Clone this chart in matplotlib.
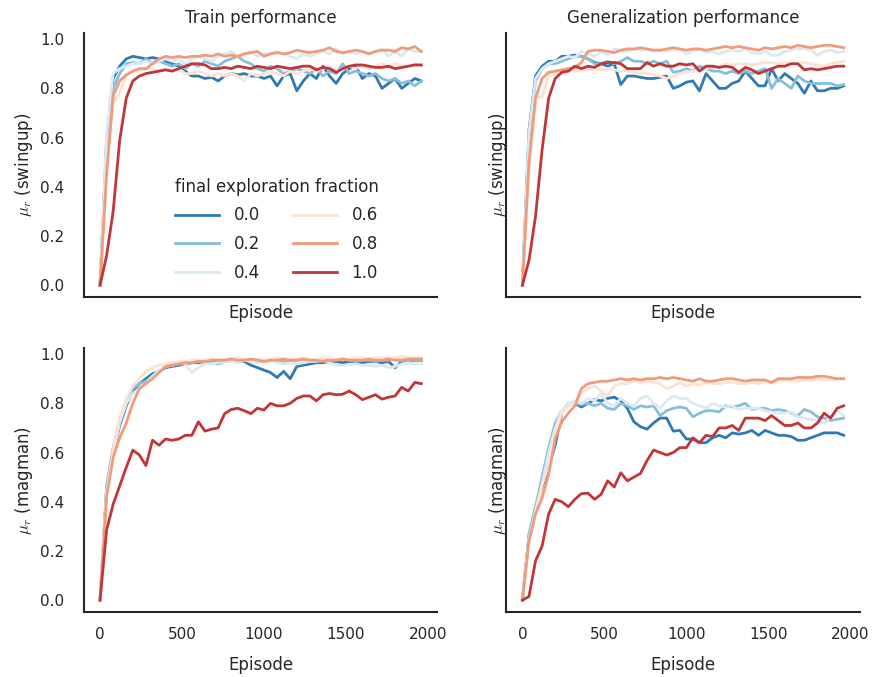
import matplotlib
matplotlib.use("Agg")
import matplotlib.pyplot as plt
import numpy as np

# episodes (one point every 40 episodes)
episodes = np.arange(0, 2000, 40)
fractions = ["0.0", "0.2", "0.4", "0.6", "0.8", "1.0"]

# ---- train performance, swingup ----
tl_00 = [0.00, 0.59, 0.84, 0.89, 0.92, 0.93, 0.925, 0.92, 0.925, 0.92,
         0.91, 0.90, 0.89, 0.87, 0.85, 0.85, 0.84, 0.845, 0.83, 0.85,
         0.86, 0.855, 0.86, 0.85, 0.85, 0.84, 0.85, 0.81, 0.85, 0.86,
         0.79, 0.83, 0.86, 0.84, 0.89, 0.85, 0.82, 0.86, 0.88, 0.89,
         0.84, 0.86, 0.85, 0.80, 0.82, 0.84, 0.80, 0.82, 0.84, 0.83]
tl_02 = [0.00, 0.55, 0.80, 0.86, 0.90, 0.905, 0.90, 0.92, 0.90, 0.91,
         0.90, 0.89, 0.90, 0.88, 0.90, 0.89, 0.91, 0.90, 0.89, 0.91,
         0.92, 0.93, 0.91, 0.90, 0.88, 0.87, 0.89, 0.88, 0.86, 0.87,
         0.88, 0.87, 0.86, 0.88, 0.85, 0.87, 0.86, 0.90, 0.86, 0.87,
         0.86, 0.85, 0.86, 0.84, 0.83, 0.84, 0.82, 0.83, 0.81, 0.83]
tl_04 = [0.00, 0.62, 0.86, 0.88, 0.89, 0.90, 0.90, 0.91, 0.90, 0.91,
         0.92, 0.91, 0.92, 0.90, 0.92, 0.93, 0.92, 0.91, 0.93, 0.94,
         0.95, 0.93, 0.94, 0.95, 0.93, 0.94, 0.94, 0.95, 0.94, 0.93,
         0.92, 0.94, 0.93, 0.94, 0.95, 0.94, 0.96, 0.94, 0.95, 0.94,
         0.95, 0.94, 0.95, 0.96, 0.93, 0.95, 0.93, 0.96, 0.95, 0.95]
tl_06 = [0.00, 0.50, 0.74, 0.78, 0.85, 0.87, 0.87, 0.88, 0.88, 0.87,
         0.88, 0.87, 0.88, 0.86, 0.86, 0.87, 0.86, 0.85, 0.86, 0.85,
         0.86, 0.85, 0.83, 0.86, 0.85, 0.86, 0.87, 0.86, 0.85, 0.87,
         0.86, 0.87, 0.88, 0.87, 0.88, 0.89, 0.87, 0.88, 0.89, 0.88,
         0.89, 0.88, 0.89, 0.90, 0.89, 0.90, 0.89, 0.89, 0.90, 0.89]
tl_08 = [0.00, 0.45, 0.77, 0.83, 0.855, 0.87, 0.88, 0.88, 0.90, 0.92,
         0.93, 0.925, 0.93, 0.925, 0.93, 0.93, 0.935, 0.93, 0.94, 0.93,
         0.935, 0.93, 0.94, 0.945, 0.95, 0.93, 0.94, 0.945, 0.94, 0.945,
         0.955, 0.95, 0.945, 0.95, 0.955, 0.965, 0.95, 0.945, 0.95, 0.955,
         0.95, 0.94, 0.95, 0.955, 0.955, 0.95, 0.965, 0.96, 0.97, 0.95]
tl_10 = [0.00, 0.12, 0.30, 0.59, 0.76, 0.83, 0.85, 0.86, 0.865, 0.87,
         0.875, 0.87, 0.88, 0.89, 0.90, 0.90, 0.895, 0.88, 0.88, 0.885,
         0.88, 0.89, 0.885, 0.88, 0.89, 0.885, 0.88, 0.89, 0.885, 0.88,
         0.885, 0.89, 0.89, 0.875, 0.885, 0.88, 0.865, 0.88, 0.89, 0.895,
         0.895, 0.89, 0.885, 0.885, 0.89, 0.88, 0.885, 0.89, 0.895, 0.895]

# ---- generalization performance, swingup ----
tr_00 = [0.00, 0.63, 0.85, 0.89, 0.91, 0.91, 0.93, 0.93, 0.935, 0.93,
         0.92, 0.905, 0.90, 0.89, 0.90, 0.815, 0.85, 0.85, 0.845, 0.84,
         0.84, 0.845, 0.85, 0.80, 0.81, 0.825, 0.83, 0.79, 0.86, 0.83,
         0.80, 0.80, 0.82, 0.83, 0.87, 0.84, 0.81, 0.81, 0.88, 0.83,
         0.86, 0.84, 0.82, 0.78, 0.83, 0.79, 0.79, 0.80, 0.80, 0.81]
tr_02 = [0.00, 0.60, 0.83, 0.88, 0.90, 0.90, 0.91, 0.92, 0.93, 0.93,
         0.92, 0.90, 0.90, 0.91, 0.90, 0.91, 0.925, 0.91, 0.91, 0.90,
         0.91, 0.90, 0.91, 0.865, 0.87, 0.88, 0.87, 0.89, 0.88, 0.87,
         0.87, 0.86, 0.87, 0.86, 0.87, 0.86, 0.87, 0.88, 0.80, 0.84,
         0.82, 0.80, 0.85, 0.83, 0.82, 0.82, 0.82, 0.82, 0.81, 0.815]
tr_04 = [0.00, 0.62, 0.84, 0.88, 0.90, 0.91, 0.92, 0.93, 0.925, 0.95,
         0.94, 0.93, 0.95, 0.935, 0.96, 0.955, 0.95, 0.96, 0.955, 0.96,
         0.95, 0.955, 0.95, 0.955, 0.96, 0.94, 0.95, 0.96, 0.945, 0.95,
         0.94, 0.95, 0.955, 0.95, 0.96, 0.945, 0.94, 0.95, 0.935, 0.935,
         0.95, 0.955, 0.96, 0.96, 0.955, 0.935, 0.95, 0.955, 0.945, 0.95]
tr_06 = [0.00, 0.45, 0.76, 0.765, 0.85, 0.86, 0.865, 0.87, 0.87, 0.87,
         0.875, 0.875, 0.875, 0.88, 0.875, 0.87, 0.87, 0.865, 0.86, 0.86,
         0.855, 0.85, 0.84, 0.85, 0.86, 0.865, 0.87, 0.875, 0.88, 0.885,
         0.89, 0.90, 0.895, 0.90, 0.90, 0.895, 0.90, 0.905, 0.905, 0.90,
         0.905, 0.90, 0.90, 0.905, 0.90, 0.895, 0.89, 0.90, 0.905, 0.91]
tr_08 = [0.00, 0.50, 0.76, 0.84, 0.865, 0.87, 0.875, 0.88, 0.885, 0.905,
         0.95, 0.955, 0.955, 0.95, 0.945, 0.955, 0.96, 0.96, 0.965, 0.96,
         0.955, 0.955, 0.96, 0.965, 0.96, 0.955, 0.96, 0.96, 0.955, 0.96,
         0.965, 0.97, 0.965, 0.97, 0.965, 0.96, 0.955, 0.965, 0.96, 0.965,
         0.97, 0.965, 0.975, 0.97, 0.965, 0.97, 0.975, 0.975, 0.97, 0.965]
tr_10 = [0.00, 0.10, 0.28, 0.55, 0.76, 0.84, 0.865, 0.87, 0.89, 0.88,
         0.89, 0.885, 0.90, 0.905, 0.905, 0.90, 0.88, 0.88, 0.88, 0.905,
         0.89, 0.90, 0.89, 0.89, 0.90, 0.895, 0.90, 0.87, 0.89, 0.89,
         0.885, 0.89, 0.885, 0.865, 0.885, 0.875, 0.86, 0.87, 0.88, 0.89,
         0.89, 0.90, 0.90, 0.875, 0.88, 0.875, 0.88, 0.885, 0.89, 0.89]

# ---- train performance, magman ----
bl_00 = [0.00, 0.45, 0.60, 0.71, 0.79, 0.85, 0.88, 0.90, 0.92, 0.93,
         0.945, 0.95, 0.955, 0.96, 0.965, 0.965, 0.97, 0.975, 0.97, 0.975,
         0.97, 0.975, 0.97, 0.955, 0.945, 0.935, 0.925, 0.905, 0.93, 0.90,
         0.95, 0.955, 0.96, 0.965, 0.965, 0.97, 0.97, 0.965, 0.97, 0.97,
         0.965, 0.97, 0.97, 0.965, 0.97, 0.945, 0.97, 0.97, 0.975, 0.975]
bl_02 = [0.00, 0.47, 0.62, 0.73, 0.80, 0.86, 0.88, 0.89, 0.91, 0.93,
         0.95, 0.955, 0.96, 0.96, 0.965, 0.97, 0.97, 0.965, 0.96, 0.97,
         0.975, 0.97, 0.975, 0.975, 0.97, 0.97, 0.975, 0.975, 0.97, 0.975,
         0.975, 0.98, 0.975, 0.975, 0.98, 0.975, 0.975, 0.98, 0.975, 0.97,
         0.975, 0.975, 0.97, 0.975, 0.975, 0.98, 0.975, 0.975, 0.975, 0.975]
bl_04 = [0.00, 0.44, 0.60, 0.72, 0.80, 0.84, 0.86, 0.88, 0.91, 0.935,
         0.95, 0.955, 0.965, 0.96, 0.925, 0.945, 0.96, 0.96, 0.965, 0.97,
         0.97, 0.965, 0.975, 0.97, 0.965, 0.97, 0.975, 0.965, 0.96, 0.965,
         0.96, 0.965, 0.97, 0.97, 0.975, 0.965, 0.955, 0.955, 0.955, 0.96,
         0.955, 0.955, 0.95, 0.955, 0.945, 0.95, 0.96, 0.965, 0.96, 0.96]
bl_06 = [0.00, 0.43, 0.61, 0.74, 0.82, 0.87, 0.90, 0.93, 0.945, 0.955,
         0.96, 0.965, 0.97, 0.97, 0.975, 0.975, 0.975, 0.98, 0.975, 0.98,
         0.98, 0.985, 0.98, 0.98, 0.98, 0.975, 0.98, 0.985, 0.98, 0.98,
         0.98, 0.985, 0.98, 0.98, 0.985, 0.985, 0.98, 0.98, 0.98, 0.985,
         0.985, 0.98, 0.985, 0.985, 0.985, 0.985, 0.99, 0.985, 0.985, 0.985]
bl_08 = [0.00, 0.42, 0.58, 0.66, 0.72, 0.80, 0.86, 0.88, 0.90, 0.925,
         0.95, 0.955, 0.96, 0.965, 0.965, 0.97, 0.97, 0.975, 0.975, 0.975,
         0.98, 0.975, 0.975, 0.98, 0.975, 0.97, 0.975, 0.975, 0.98, 0.975,
         0.975, 0.98, 0.975, 0.975, 0.97, 0.975, 0.975, 0.98, 0.975, 0.975,
         0.975, 0.98, 0.975, 0.975, 0.98, 0.975, 0.975, 0.98, 0.98, 0.98]
bl_10 = [0.00, 0.285, 0.39, 0.465, 0.54, 0.61, 0.59, 0.547, 0.65, 0.63,
         0.655, 0.65, 0.655, 0.67, 0.67, 0.725, 0.687, 0.695, 0.70, 0.758,
         0.775, 0.78, 0.77, 0.758, 0.78, 0.773, 0.80, 0.79, 0.79, 0.80,
         0.82, 0.83, 0.83, 0.81, 0.835, 0.84, 0.835, 0.837, 0.85, 0.835,
         0.815, 0.825, 0.835, 0.817, 0.825, 0.83, 0.865, 0.85, 0.885, 0.88]

# ---- generalization performance, magman ----
br_00 = [0.00, 0.26, 0.375, 0.46, 0.54, 0.63, 0.76, 0.80, 0.80, 0.785,
         0.80, 0.815, 0.81, 0.82, 0.825, 0.81, 0.78, 0.725, 0.705, 0.695,
         0.72, 0.74, 0.74, 0.687, 0.69, 0.655, 0.655, 0.64, 0.64, 0.66,
         0.67, 0.66, 0.68, 0.675, 0.68, 0.69, 0.67, 0.69, 0.68, 0.67,
         0.67, 0.665, 0.65, 0.65, 0.66, 0.67, 0.68, 0.68, 0.68, 0.67]
br_02 = [0.00, 0.27, 0.38, 0.50, 0.62, 0.72, 0.77, 0.79, 0.80, 0.795,
         0.80, 0.79, 0.80, 0.78, 0.775, 0.80, 0.79, 0.775, 0.79, 0.785,
         0.79, 0.75, 0.77, 0.78, 0.785, 0.78, 0.745, 0.76, 0.77, 0.77,
         0.765, 0.79, 0.785, 0.79, 0.80, 0.775, 0.78, 0.78, 0.77, 0.775,
         0.77, 0.76, 0.75, 0.775, 0.765, 0.745, 0.74, 0.73, 0.735, 0.74]
br_04 = [0.00, 0.25, 0.36, 0.47, 0.60, 0.70, 0.77, 0.80, 0.81, 0.80,
         0.82, 0.81, 0.84, 0.80, 0.79, 0.82, 0.80, 0.79, 0.82, 0.83,
         0.80, 0.78, 0.81, 0.83, 0.82, 0.82, 0.80, 0.79, 0.78, 0.80,
         0.79, 0.785, 0.79, 0.775, 0.78, 0.78, 0.78, 0.77, 0.765, 0.76,
         0.76, 0.765, 0.745, 0.74, 0.735, 0.73, 0.72, 0.745, 0.77, 0.75]
br_06 = [0.00, 0.24, 0.36, 0.47, 0.55, 0.68, 0.76, 0.79, 0.80, 0.84,
         0.86, 0.87, 0.85, 0.83, 0.87, 0.88, 0.88, 0.89, 0.885, 0.89,
         0.885, 0.88, 0.86, 0.87, 0.885, 0.87, 0.88, 0.875, 0.885, 0.88,
         0.88, 0.885, 0.885, 0.88, 0.88, 0.885, 0.88, 0.89, 0.885, 0.89,
         0.895, 0.89, 0.89, 0.895, 0.895, 0.90, 0.895, 0.895, 0.90, 0.90]
br_08 = [0.00, 0.24, 0.35, 0.415, 0.51, 0.655, 0.725, 0.76, 0.79, 0.86,
         0.88, 0.885, 0.89, 0.89, 0.895, 0.90, 0.895, 0.90, 0.895, 0.90,
         0.90, 0.905, 0.90, 0.905, 0.90, 0.895, 0.89, 0.90, 0.89, 0.89,
         0.895, 0.90, 0.90, 0.895, 0.89, 0.895, 0.895, 0.895, 0.885, 0.90,
         0.90, 0.90, 0.905, 0.905, 0.905, 0.91, 0.91, 0.905, 0.90, 0.90]
br_10 = [0.00, 0.015, 0.16, 0.22, 0.35, 0.41, 0.40, 0.38, 0.41, 0.433,
         0.435, 0.41, 0.43, 0.485, 0.46, 0.518, 0.485, 0.50, 0.515, 0.567,
         0.61, 0.60, 0.59, 0.60, 0.62, 0.62, 0.66, 0.64, 0.67, 0.665,
         0.70, 0.70, 0.71, 0.69, 0.74, 0.74, 0.74, 0.73, 0.75, 0.73,
         0.71, 0.71, 0.72, 0.70, 0.70, 0.72, 0.76, 0.74, 0.78, 0.79]

panels = [
    [tl_00, tl_02, tl_04, tl_06, tl_08, tl_10],
    [tr_00, tr_02, tr_04, tr_06, tr_08, tr_10],
    [bl_00, bl_02, bl_04, bl_06, bl_08, bl_10],
    [br_00, br_02, br_04, br_06, br_08, br_10],
]
titles = ["Train performance", "Generalization performance"]
ylabels = [r"$\mu_r$ (swingup)", r"$\mu_r$ (magman)"]

# style, roughly seaborn "white"
text_col = "#262626"
plt.rcParams.update({
    "font.family": "DejaVu Sans",
    "mathtext.fontset": "cm",
    "font.size": 12,
    "text.color": text_col,
    "axes.labelcolor": text_col,
    "xtick.color": text_col,
    "ytick.color": text_col,
    "axes.edgecolor": text_col,
    "axes.linewidth": 1.5,
})

cmap = plt.get_cmap("RdBu_r")
colors = [cmap(v) for v in np.linspace(0, 1, 8)[1:-1]]

fig, axes = plt.subplots(2, 2, figsize=(8.72, 6.77), dpi=100,
                         sharex=True, sharey=True)
fig.subplots_adjust(left=0.0963, right=0.986, top=0.9513, bottom=0.096,
                    wspace=0.195, hspace=0.193)

for k, ax in enumerate(axes.flat):
    for series, frac, col in zip(panels[k], fractions, colors):
        ax.plot(episodes, series, color=col, lw=2, label=frac)
    ax.spines["top"].set_visible(False)
    ax.spines["right"].set_visible(False)
    ax.tick_params(axis="both", length=0, labelsize=11)
    ax.tick_params(axis="x", pad=11)
    ax.tick_params(axis="y", pad=14)
    row, col_i = divmod(k, 2)
    ax.set_xlabel("Episode", fontsize=12, labelpad=10 if row == 1 else 5)
    ax.set_ylabel(ylabels[row], fontsize=12,
                  labelpad=-2 if col_i == 1 else 4)
    if row == 0:
        ax.set_title(titles[k], fontsize=12, color=text_col, pad=7.5)

axes[0, 0].set_xlim(-98, 2058)
axes[0, 0].set_ylim(-0.048, 1.025)
axes[0, 0].set_xticks([0, 500, 1000, 1500, 2000])
axes[0, 0].set_yticks([0.0, 0.2, 0.4, 0.6, 0.8, 1.0])

leg = axes[0, 0].legend(title="final exploration fraction", ncol=2,
                        loc="lower center", bbox_to_anchor=(0.545, 0.0),
                        frameon=False, fontsize=12, title_fontsize=12,
                        handlelength=2.6, handletextpad=0.9,
                        labelspacing=0.65)

fig.savefig("out.png", dpi=100)
